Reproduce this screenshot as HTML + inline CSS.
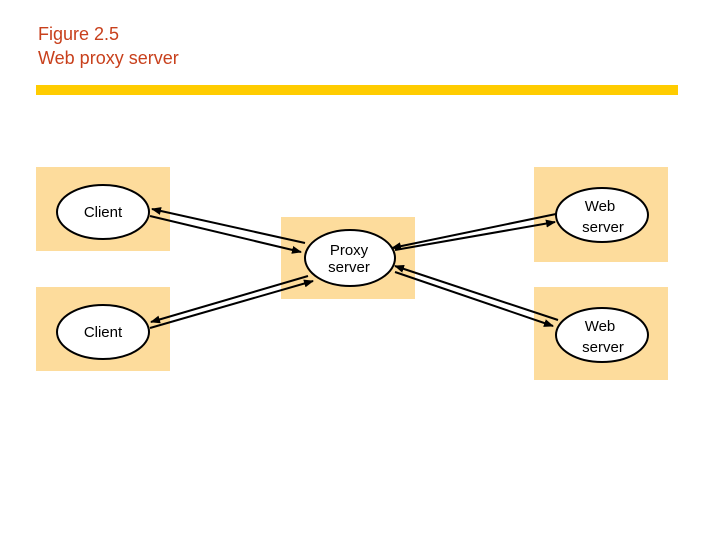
<!DOCTYPE html>
<html><head><style>
body{margin:0;width:720px;height:540px;background:#fff;overflow:hidden;position:relative;font-family:"Liberation Sans",sans-serif}
.t{position:absolute;left:38px;top:22px;color:#c8401c;font-size:18px;line-height:24px}
.bar{position:absolute;left:36px;top:85px;width:642px;height:10px;background:#ffcc00}
</style></head><body>
<div class="t">Figure 2.5<br>Web proxy server</div>
<div class="bar"></div>
<svg width="720" height="540" style="position:absolute;left:0;top:0">
<defs><marker id="a" markerWidth="10" markerHeight="8" refX="9" refY="4" orient="auto" markerUnits="userSpaceOnUse"><path d="M0,0 L10,4 L0,8 z" fill="#000"/></marker></defs>
<g fill="#fddc9c">
<rect x="36" y="167" width="134" height="84"/>
<rect x="36" y="287" width="134" height="84"/>
<rect x="281" y="217" width="134" height="82"/>
<rect x="534" y="167" width="134" height="95"/>
<rect x="534" y="287" width="134" height="93"/>
</g>
<g fill="#fff" stroke="#000" stroke-width="2">
<ellipse cx="103" cy="212" rx="46" ry="27"/>
<ellipse cx="103" cy="332" rx="46" ry="27"/>
<ellipse cx="350" cy="258" rx="45" ry="28"/>
<ellipse cx="602" cy="215" rx="46" ry="27"/>
<ellipse cx="602" cy="335" rx="46" ry="27"/>
</g>
<g stroke="#000" stroke-width="2" marker-end="url(#a)">
<line x1="150" y1="216" x2="301" y2="252"/>
<line x1="305" y1="243" x2="152" y2="209"/>
<line x1="308" y1="276" x2="151" y2="322"/>
<line x1="150" y1="328" x2="313" y2="281"/>
<line x1="556" y1="214" x2="392" y2="248"/>
<line x1="395" y1="250" x2="555" y2="222"/>
<line x1="558" y1="320" x2="395" y2="266"/>
<line x1="395" y1="272" x2="553" y2="326"/>
</g>
<g font-family="Liberation Sans, sans-serif" font-size="15" fill="#000" text-anchor="middle">
<text x="103" y="217">Client</text>
<text x="103" y="337">Client</text>
<text x="349" y="255">Proxy</text>
<text x="349" y="272">server</text>
<text x="600" y="211">Web</text>
<text x="603" y="232">server</text>
<text x="600" y="331">Web</text>
<text x="603" y="352">server</text>
</g>
</svg>
</body></html>
